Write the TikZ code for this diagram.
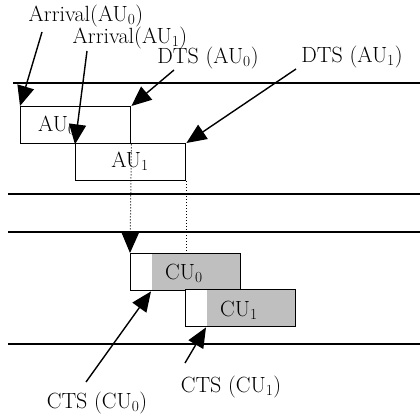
\documentclass[tikz,border=0pt]{standalone}
\usetikzlibrary{arrows.meta}
\begin{document}
\begin{tikzpicture}[x=1pt,y=-1pt,>={Triangle[length=20pt,width=17pt]},
  unit box/.style={draw,line width=1.4pt,minimum width=110pt,minimum height=37pt,
    inner sep=0pt,anchor=north west},
  cu box/.style={unit box,fill=gray!50,path picture={
    \fill[white] (path picture bounding box.north west) rectangle
      ([xshift=21pt]path picture bounding box.south west);}},
  label text/.style={font=\fontsize{22}{25}\selectfont,inner sep=0pt},
  pointer/.style={->,line width=1.4pt},
  lane/.style={line width=1.2pt}]

  \useasboundingbox (0,0) rectangle (420,414);

  % lanes
  \draw[lane] (13,83) -- (420,83);
  \draw[lane] (8,194) -- (420,194);
  \draw[lane] (8,232) -- (420,232);
  \draw[lane] (8,344) -- (420,344);

  % access units and composition units
  \node[unit box] (au0) at (20,106) {};
  \node[unit box] (au1) at (75,143) {};
  \node[cu box] (cu0) at (130,253) {};
  \node[cu box] (cu1) at (185,289) {};

  \node[label text,anchor=west] (au0txt) at (38,125) {AU\textsubscript{0}};
  \node[label text] (au1txt) at (130,161) {AU\textsubscript{1}};
  \node[label text,anchor=west] (cu0txt) at (165,273) {CU\textsubscript{0}};
  \node[label text,anchor=west] (cu1txt) at (220,310) {CU\textsubscript{1}};

  % time stamp labels
  \node[label text] (arr0) at (86,16) {Arrival(AU\textsubscript{0})};
  \node[label text] (arr1) at (130,38) {Arrival(AU\textsubscript{1})};
  \node[label text] (dts0) at (208,58) {DTS (AU\textsubscript{0})};
  \node[label text] (dts1) at (352,57) {DTS (AU\textsubscript{1})};
  \node[label text] (cts0) at (97,403) {CTS (CU\textsubscript{0})};
  \node[label text] (cts1) at (231,387) {CTS (CU\textsubscript{1})};

  \coordinate (arr0end) at (42,32);
  \coordinate (arr1end) at (87,51);
  \coordinate (dts0end) at (174,70);
  \coordinate (dts1end) at (296,69);
  \coordinate (cts0end) at (86,382);
  \coordinate (cts1end) at (185,363);

  \draw[pointer] (arr0end) -- (au0.north west);
  \draw[pointer] (arr1end) -- (au0.south west -| au1.west);
  \draw[pointer] (dts0end) -- (au0.north east);
  \draw[pointer] (dts1end) -- (au1.north east);
  \draw[pointer] (cts0end) -- ([xshift=21pt]cu0.south west);
  \draw[pointer] (cts1end) -- ([xshift=21pt]cu1.south west);

  % decoding to composition
  \draw[dotted,line width=1pt,->] (au0.south east) -- (cu0.north west);
  \draw[dotted,line width=1pt] (au1.south east) -- (au1.south east |- cu0.north);

\end{tikzpicture}
\end{document}
